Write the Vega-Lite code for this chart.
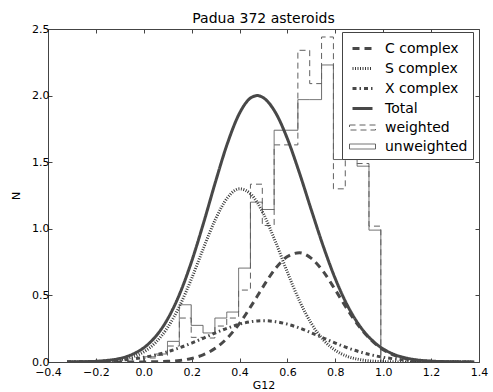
{
  "$schema": "https://vega.github.io/schema/vega-lite/v6.json",
  "width": 431,
  "height": 333,
  "autosize": {"type": "none"},
  "padding": {"left": 48, "top": 29, "right": 14, "bottom": 30},
  "title": {"text": "Padua 372 asteroids", "fontSize": 14, "fontWeight": "normal", "font": "DejaVu Sans", "color": "#000", "offset": -3},
  "config": {
    "font": "DejaVu Sans",
    "view": {"stroke": "#444", "strokeWidth": 1},
    "axis": {
      "grid": false,
      "domain": false,
      "tickColor": "#444",
      "tickSize": -4,
      "labelPadding": 8,
      "labelFontSize": 11,
      "labelColor": "#000",
      "labelFont": "DejaVu Sans",
      "titleFont": "DejaVu Sans",
      "titleFontSize": 11,
      "titleFontWeight": "normal",
      "titleColor": "#000",
      "labelFlush": false,
      "labelOverlap": false,
      "labelBound": false
    },
    "legend": {
      "orient": "none",
      "legendX": 294,
      "legendY": 3,
      "fillColor": "white",
      "strokeColor": "#444",
      "padding": 5,
      "symbolSize": 400,
      "symbolType": "stroke",
      "labelFontSize": 14,
      "labelFont": "DejaVu Sans",
      "labelColor": "#000",
      "rowPadding": 1,
      "labelOffset": 11,
      "symbolOffset": 4
    }
  },
  "resolve": {"axis": {"x": "independent", "y": "independent"}},
  "layer": [
    {
      "data": {"values": [
        {"i": 0, "x": 0, "unweighted": 0, "weighted": 0},
        {"i": 1, "x": 0, "unweighted": 0.04, "weighted": 0.03},
        {"i": 2, "x": 0.0495, "unweighted": 0.06, "weighted": 0.05},
        {"i": 3, "x": 0.099, "unweighted": 0.155, "weighted": 0.12},
        {"i": 4, "x": 0.1485, "unweighted": 0.43, "weighted": 0.33},
        {"i": 5, "x": 0.198, "unweighted": 0.275, "weighted": 0.185},
        {"i": 6, "x": 0.2475, "unweighted": 0.218, "weighted": 0.18},
        {"i": 7, "x": 0.297, "unweighted": 0.33, "weighted": 0.27},
        {"i": 8, "x": 0.3465, "unweighted": 0.375, "weighted": 0.33},
        {"i": 9, "x": 0.396, "unweighted": 0.705, "weighted": 0.54},
        {"i": 10, "x": 0.4455, "unweighted": 1.2, "weighted": 1.335},
        {"i": 11, "x": 0.495, "unweighted": 1.145, "weighted": 1.025},
        {"i": 12, "x": 0.5445, "unweighted": 1.74, "weighted": 1.63},
        {"i": 13, "x": 0.594, "unweighted": 1.74, "weighted": 1.63},
        {"i": 14, "x": 0.6435, "unweighted": 1.97, "weighted": 2.34},
        {"i": 15, "x": 0.693, "unweighted": 1.97, "weighted": 2.09},
        {"i": 16, "x": 0.7425, "unweighted": 2.23, "weighted": 2.44},
        {"i": 17, "x": 0.792, "unweighted": 1.52, "weighted": 1.3},
        {"i": 18, "x": 0.8415, "unweighted": 1.52, "weighted": 1.85},
        {"i": 19, "x": 0.891, "unweighted": 1.47, "weighted": 1.49},
        {"i": 20, "x": 0.9405, "unweighted": 0.99, "weighted": 1.02},
        {"i": 21, "x": 0.99, "unweighted": 0.99, "weighted": 1.02},
        {"i": 22, "x": 0.99, "unweighted": 0, "weighted": 0}
      ]},
      "transform": [{"fold": ["weighted", "unweighted"], "as": ["series", "n"]}],
      "mark": {"type": "line", "interpolate": "step-after", "clip": true},
      "encoding": {
        "x": {"field": "x", "type": "quantitative", "scale": {"domain": [-0.4, 1.4], "nice": false, "zero": false},
          "axis": {"orient": "bottom", "title": "G12", "values": [-0.4, -0.2, 0, 0.2, 0.4, 0.6, 0.8, 1.0, 1.2, 1.4], "format": ".1f", "titlePadding": 2}},
        "y": {"field": "n", "type": "quantitative", "scale": {"domain": [0, 2.5], "nice": false, "zero": true},
          "axis": {"orient": "left", "title": "N", "values": [0, 0.5, 1, 1.5, 2, 2.5], "format": ".1f", "labelPadding": 3, "titlePadding": 10}},
        "order": {"field": "i", "type": "quantitative"},
        "color": {"field": "series", "type": "nominal",
          "scale": {"type": "ordinal", "domain": ["C complex", "S complex", "X complex", "Total", "weighted", "unweighted"], "range": ["#484848", "#3a3a3a", "#484848", "#484848", "#606060", "#606060"]},
          "legend": {"title": null, "encode": {"symbols": {"update": {"shape": {"signal": "datum.value === 'weighted' || datum.value === 'unweighted' ? 'M-1.3,-0.25H1.3V0.25H-1.3Z' : 'stroke'"}, "fill": {"value": "transparent"}}}}}},
        "strokeDash": {"field": "series", "type": "nominal",
          "scale": {"type": "ordinal", "domain": ["C complex", "S complex", "X complex", "Total", "weighted", "unweighted"], "range": [[7, 5], [1, 1.5], [4, 3, 1.5, 3], [1, 0], [6, 4], [1, 0]]}},
        "strokeWidth": {"field": "series", "type": "nominal",
          "scale": {"type": "ordinal", "domain": ["C complex", "S complex", "X complex", "Total", "weighted", "unweighted"], "range": [3, 3, 3, 3, 1, 1]}}
      }
    },
    {
      "data": {"values": [
        {"x": -0.32, "C complex": 0, "S complex": 0.0001, "X complex": 0.0009, "Total": 0.0005},
        {"x": -0.3, "C complex": 0, "S complex": 0.0002, "X complex": 0.0012, "Total": 0.0008},
        {"x": -0.25, "C complex": 0, "S complex": 0.0008, "X complex": 0.0023, "Total": 0.0021},
        {"x": -0.2, "C complex": 0, "S complex": 0.0023, "X complex": 0.0044, "Total": 0.0053},
        {"x": -0.15, "C complex": 0, "S complex": 0.0063, "X complex": 0.0079, "Total": 0.0124},
        {"x": -0.1, "C complex": 0.0001, "S complex": 0.0158, "X complex": 0.0136, "Total": 0.0271},
        {"x": -0.05, "C complex": 0.0002, "S complex": 0.0362, "X complex": 0.0224, "Total": 0.0556},
        {"x": 0.0, "C complex": 0.0006, "S complex": 0.0761, "X complex": 0.0354, "Total": 0.1068},
        {"x": 0.05, "C complex": 0.0018, "S complex": 0.1469, "X complex": 0.0534, "Total": 0.1923},
        {"x": 0.1, "C complex": 0.0048, "S complex": 0.2601, "X complex": 0.0773, "Total": 0.324},
        {"x": 0.15, "C complex": 0.0118, "S complex": 0.422, "X complex": 0.107, "Total": 0.5117},
        {"x": 0.2, "C complex": 0.0267, "S complex": 0.628, "X complex": 0.142, "Total": 0.756},
        {"x": 0.25, "C complex": 0.0552, "S complex": 0.858, "X complex": 0.18, "Total": 1.046},
        {"x": 0.3, "C complex": 0.1046, "S complex": 1.074, "X complex": 0.219, "Total": 1.3556},
        {"x": 0.35, "C complex": 0.182, "S complex": 1.234, "X complex": 0.255, "Total": 1.6446},
        {"x": 0.4, "C complex": 0.29, "S complex": 1.3, "X complex": 0.284, "Total": 1.868},
        {"x": 0.45, "C complex": 0.425, "S complex": 1.255, "X complex": 0.303, "Total": 1.987},
        {"x": 0.475, "C complex": 0.497, "S complex": 1.194, "X complex": 0.3083, "Total": 2.0},
        {"x": 0.5, "C complex": 0.57, "S complex": 1.112, "X complex": 0.31, "Total": 1.983},
        {"x": 0.55, "C complex": 0.7015, "S complex": 0.903, "X complex": 0.303, "Total": 1.873},
        {"x": 0.6, "C complex": 0.792, "S complex": 0.673, "X complex": 0.284, "Total": 1.675},
        {"x": 0.65, "C complex": 0.82, "S complex": 0.46, "X complex": 0.255, "Total": 1.42},
        {"x": 0.7, "C complex": 0.778, "S complex": 0.2885, "X complex": 0.219, "Total": 1.14},
        {"x": 0.75, "C complex": 0.678, "S complex": 0.1659, "X complex": 0.18, "Total": 0.867},
        {"x": 0.8, "C complex": 0.541, "S complex": 0.0875, "X complex": 0.142, "Total": 0.6247},
        {"x": 0.85, "C complex": 0.396, "S complex": 0.0423, "X complex": 0.107, "Total": 0.4264},
        {"x": 0.9, "C complex": 0.266, "S complex": 0.0188, "X complex": 0.0773, "Total": 0.2757},
        {"x": 0.95, "C complex": 0.164, "S complex": 0.0076, "X complex": 0.0534, "Total": 0.169},
        {"x": 1.0, "C complex": 0.0927, "S complex": 0.0028, "X complex": 0.0354, "Total": 0.098},
        {"x": 1.05, "C complex": 0.048, "S complex": 0.001, "X complex": 0.0224, "Total": 0.0539},
        {"x": 1.1, "C complex": 0.0228, "S complex": 0.0003, "X complex": 0.0136, "Total": 0.0281},
        {"x": 1.15, "C complex": 0.01, "S complex": 0.0001, "X complex": 0.0079, "Total": 0.0139},
        {"x": 1.2, "C complex": 0.004, "S complex": 0, "X complex": 0.0044, "Total": 0.0065},
        {"x": 1.25, "C complex": 0.0015, "S complex": 0, "X complex": 0.0023, "Total": 0.0029},
        {"x": 1.3, "C complex": 0.0005, "S complex": 0, "X complex": 0.0012, "Total": 0.0012},
        {"x": 1.35, "C complex": 0.0002, "S complex": 0, "X complex": 0.0006, "Total": 0.0005},
        {"x": 1.38, "C complex": 0.0001, "S complex": 0, "X complex": 0.0004, "Total": 0.0003}
      ]},
      "transform": [{"fold": ["C complex", "S complex", "X complex", "Total"], "as": ["series", "n"]}],
      "mark": {"type": "line", "interpolate": "monotone", "clip": true},
      "encoding": {
        "x": {"field": "x", "type": "quantitative", "scale": {"domain": [-0.4, 1.4], "nice": false, "zero": false},
          "axis": {"orient": "top", "title": null, "labels": false, "values": [-0.4, -0.2, 0, 0.2, 0.4, 0.6, 0.8, 1.0, 1.2, 1.4]}},
        "y": {"field": "n", "type": "quantitative", "scale": {"domain": [0, 2.5], "nice": false, "zero": true},
          "axis": {"orient": "right", "title": null, "labels": false, "values": [0, 0.5, 1, 1.5, 2, 2.5]}},
        "color": {"field": "series", "type": "nominal",
          "scale": {"type": "ordinal", "domain": ["C complex", "S complex", "X complex", "Total", "weighted", "unweighted"], "range": ["#484848", "#3a3a3a", "#484848", "#484848", "#606060", "#606060"]},
          "legend": {"title": null, "encode": {"symbols": {"update": {"shape": {"signal": "datum.value === 'weighted' || datum.value === 'unweighted' ? 'M-1.3,-0.25H1.3V0.25H-1.3Z' : 'stroke'"}, "fill": {"value": "transparent"}}}}}},
        "strokeDash": {"field": "series", "type": "nominal",
          "scale": {"type": "ordinal", "domain": ["C complex", "S complex", "X complex", "Total", "weighted", "unweighted"], "range": [[7, 5], [1, 1.5], [4, 3, 1.5, 3], [1, 0], [6, 4], [1, 0]]}},
        "strokeWidth": {"field": "series", "type": "nominal",
          "scale": {"type": "ordinal", "domain": ["C complex", "S complex", "X complex", "Total", "weighted", "unweighted"], "range": [3, 3, 3, 3, 1, 1]}}
      }
    }
  ]
}
